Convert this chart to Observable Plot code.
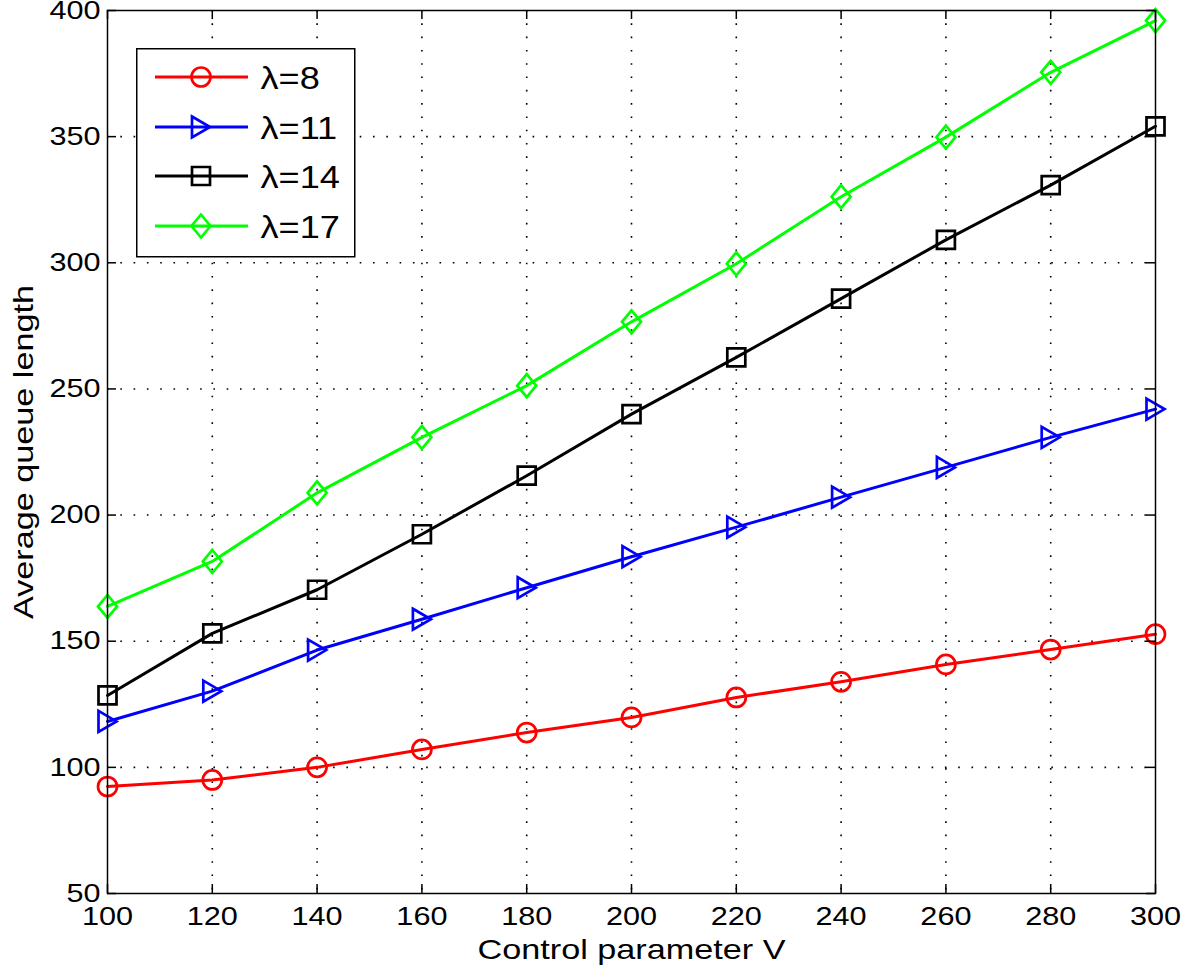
<!DOCTYPE html>
<html><head><meta charset="utf-8">
<script src="https://cdn.jsdelivr.net/npm/d3@7"></script>
<script src="https://cdn.jsdelivr.net/npm/@observablehq/plot@0.6"></script>
<style>
body{margin:0;background:#fff;}
#chart{position:relative;width:1181px;height:974px;font-family:"Liberation Sans",Arial,Helvetica,sans-serif;background:#fff;}
#legend{position:absolute;left:136px;top:48px;}
</style></head><body><div id="chart"></div>
<script>
// ---- data ----
const V = [100, 120, 140, 160, 180, 200, 220, 240, 260, 280, 300];
const seriesNames = ["λ=8", "λ=11", "λ=14", "λ=17"];
const lambda8  = [92.4, 95.0, 100.0, 107.1, 113.8, 119.8, 127.7, 133.9, 140.8, 146.7, 152.8];
const lambda11 = [118.2, 130.2, 146.5, 158.7, 171.2, 183.5, 195.2, 207.1, 218.9, 230.8, 242.0];
const lambda14 = [128.5, 153.1, 170.4, 192.4, 215.6, 240.0, 262.5, 285.8, 309.1, 330.8, 354.1];
const lambda17 = [163.8, 181.6, 208.8, 230.8, 251.3, 276.6, 299.6, 326.2, 349.8, 375.5, 396.0];
const seriesValues = [lambda8, lambda11, lambda14, lambda17];
const colors = ["#ff0000", "#0000ff", "#000000", "#00ff00"];
const xTicks = [100, 120, 140, 160, 180, 200, 220, 240, 260, 280, 300];
const yTicks = [50, 100, 150, 200, 250, 300, 350, 400];
const xLabel = "Control parameter V";
const yLabel = "Average queue length";

// ---- marker shapes ----
const symbols = [
  {draw(ctx, size){ const r = Math.sqrt(size/Math.PI)*0.95; ctx.moveTo(r,0); ctx.arc(0,0,r,0,2*Math.PI); ctx.closePath(); }},
  {draw(ctx, size){ const r = Math.sqrt(size/Math.PI); ctx.moveTo(-0.9*r,-1.05*r); ctx.lineTo(0.9*r,0); ctx.lineTo(-0.9*r,1.05*r); ctx.closePath(); }},
  {draw(ctx, size){ const r = Math.sqrt(size/Math.PI)*0.9; ctx.rect(-r,-r,2*r,2*r); }},
  {draw(ctx, size){ const r = Math.sqrt(size/Math.PI); ctx.moveTo(0,-1.15*r); ctx.lineTo(0.95*r,0); ctx.lineTo(0,1.15*r); ctx.lineTo(-0.95*r,0); ctx.closePath(); }}
];

const rows = [];
seriesNames.forEach((s, i) => V.forEach((v, j) => rows.push({series: s, V: v, q: seriesValues[i][j]})));

const W = 1181, H = 974, mL = 107, mR = 26, mT = 10, mB = 81;
const plotW = W - mL - mR, plotH = H - mT - mB;
const font = '"Liberation Sans", Arial, Helvetica, sans-serif';
const grid = {stroke: "#000", strokeWidth: 1.6, strokeDasharray: "1.6,11.7"};

const marks = [
  Plot.ruleX(xTicks.slice(1, -1), grid),
  Plot.ruleY(yTicks.slice(1, -1), grid)
];
seriesNames.forEach((s, i) => {
  const d = rows.filter(r => r.series === s);
  marks.push(Plot.line(d, {x: "V", y: "q", stroke: colors[i], strokeWidth: 3}));
  marks.push(Plot.dot(d, {x: "V", y: "q", stroke: colors[i], strokeWidth: 2.7, r: 10, symbol: symbols[i], fill: "none"}));
});
const tk = {stroke: "#000", strokeWidth: 1.5};
marks.push(
  Plot.frame({stroke: "#000", strokeWidth: 1.5}),
  Plot.ruleX(xTicks, {x: d => d, insetTop: plotH - 9, ...tk}),
  Plot.ruleX(xTicks, {x: d => d, insetBottom: plotH - 9, ...tk}),
  Plot.ruleY(yTicks, {y: d => d, insetRight: plotW - 9, ...tk}),
  Plot.ruleY(yTicks, {y: d => d, insetLeft: plotW - 9, ...tk}),
  Plot.axisX({ticks: xTicks, tickSize: 0, tickPadding: 13, label: null, fontSize: 25.5, tickFormat: d => String(d)}),
  Plot.axisY({ticks: yTicks, tickSize: 0, tickPadding: 7, label: null, fontSize: 25.5, tickFormat: d => String(d)}),
  Plot.text([xLabel], {text: d => d, frameAnchor: "bottom", dy: 56, textAnchor: "middle", lineAnchor: "middle", fontSize: 28.5}),
  Plot.text([yLabel], {text: d => d, frameAnchor: "left", dx: -84, rotate: -90, textAnchor: "middle", lineAnchor: "middle", fontSize: 28.5})
);

const chart = Plot.plot({
  width: W, height: H,
  marginLeft: mL, marginRight: mR, marginTop: mT, marginBottom: mB,
  style: {fontFamily: font, fontSize: "25px", color: "#000", background: "#fff", overflow: "visible"},
  x: {domain: [100, 300]},
  y: {domain: [50, 400]},
  marks
});
const container = document.getElementById("chart");
container.appendChild(chart);

// horizontal stretch of text to match the reference's wide glyphs
function stretch(nodes, k) {
  nodes.forEach(t => {
    const w = t.getComputedTextLength();
    if (w > 0) { t.setAttribute("textLength", (w * k).toFixed(1)); t.setAttribute("lengthAdjust", "spacingAndGlyphs"); }
  });
}
stretch(chart.querySelectorAll("text"), 1.2);

// ---- legend ----
const leg = d3.select(container).append("svg").attr("id", "legend")
  .attr("width", 221).attr("height", 210);
leg.append("rect").attr("x", 0.75).attr("y", 0.75).attr("width", 218).attr("height", 208)
  .attr("fill", "#fff").attr("stroke", "#000").attr("stroke-width", 1.5);
const rowY = [29, 79, 128, 178];
seriesNames.forEach((s, i) => {
  const g = leg.append("g").attr("transform", `translate(0,${rowY[i]})`);
  g.append("line").attr("x1", 19).attr("x2", 112).attr("y1", 0).attr("y2", 0)
    .attr("stroke", colors[i]).attr("stroke-width", 3);
  const p = d3.path(); symbols[i].draw(p, 100 * Math.PI);
  g.append("path").attr("d", p.toString()).attr("transform", "translate(65,0)")
    .attr("fill", "none").attr("stroke", colors[i]).attr("stroke-width", 2.7);
  g.append("text").attr("x", 124.5).attr("y", 0).attr("dy", "0.36em")
    .attr("font-family", font).attr("font-size", 32).attr("fill", "#000").text(s);
});
stretch(leg.selectAll("text").nodes(), 1.13);
</script></body></html>
